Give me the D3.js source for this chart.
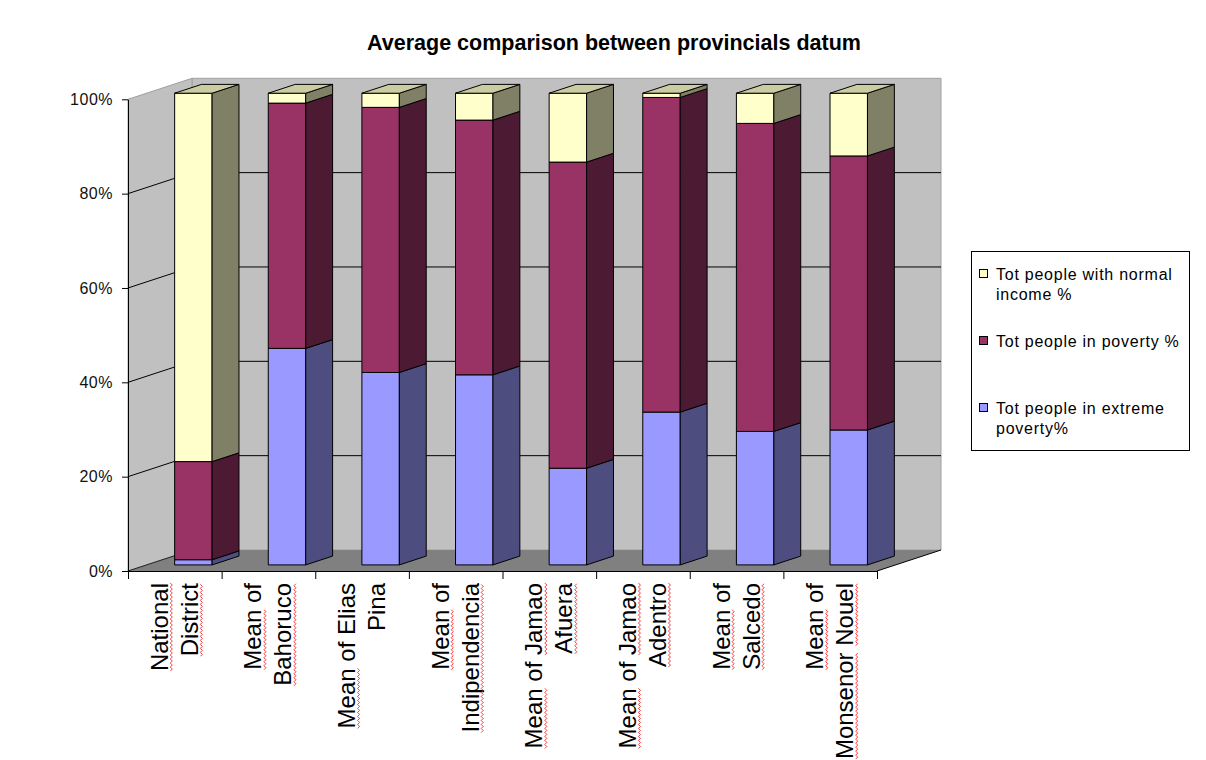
<!DOCTYPE html>
<html>
<head>
<meta charset="utf-8">
<script src="https://cdn.jsdelivr.net/npm/d3@7"></script>
<style>
  html, body { margin: 0; padding: 0; background: #ffffff; }
  svg { display: block; font-family: "Liberation Sans", Arial, sans-serif; }
</style>
</head>
<body>
<svg id="chart" width="1206" height="760"></svg>
<script>
// Categories and the wrapped lines of their axis labels
const categories = [
  "National District", "Mean of Bahoruco", "Mean of Elias Pina", "Mean of Indipendencia",
  "Mean of Jamao Afuera", "Mean of Jamao Adentro", "Mean of Salcedo", "Mean of Monsenor Nouel"
];
const categoryLabelLines = [
  ["National", "District"], ["Mean of", "Bahoruco"], ["Mean of Elias", "Pina"], ["Mean of", "Indipendencia"],
  ["Mean of Jamao", "Afuera"], ["Mean of Jamao", "Adentro"], ["Mean of", "Salcedo"], ["Mean of", "Monsenor Nouel"]
];
// Words carrying the red wavy spell-check underline
const flaggedWords = ["National", "District", "Mean", "Bahoruco", "Indipendencia", "Jamao",
  "Afuera", "Adentro", "Salcedo", "Monsenor", "Nouel"];

// Series values (% of people), stacked bottom to top
const extremePoverty = [1.1, 45.9, 40.8, 40.3, 20.5, 32.4, 28.3, 28.6];
const poverty        = [20.8, 52.0, 56.2, 54.0, 64.9, 66.7, 65.3, 58.1];
const normalIncome   = [78.1, 2.1, 3.0, 5.7, 14.6, 0.9, 6.4, 13.3];

const seriesKeys = ["extreme", "poverty", "normal"];
const legendLines = {
  normal: ["Tot people with normal", "income %"],
  poverty: ["Tot people in poverty %"],
  extreme: ["Tot people in extreme", "poverty%"]
};
const yTicks = [0, 20, 40, 60, 80, 100];
const titleText = "Average comparison between provincials datum";

// Face colours: front, right side, top
const colors = {
  normal:  { front: "#FFFFCC", side: "#808066", top: "#CCCCA3" },
  poverty: { front: "#993366", side: "#4D1A33", top: "#7A2952" },
  extreme: { front: "#9999FF", side: "#4D4D80", top: "#7A7ACC" }
};

const rows = categories.map((c, i) => ({
  category: c, extreme: extremePoverty[i], poverty: poverty[i], normal: normalIncome[i]
}));
const stacked = d3.stack().keys(seriesKeys)(rows);

const svg = d3.select("#chart");

// Front plane scales and the depth vector of the 3D box
const xBand = d3.scaleBand().domain(categories).range([128, 877]).paddingInner(0.6).paddingOuter(0.3);
const xEdge = d3.scaleLinear().domain([0, categories.length]).range([128, 877]);
const y = d3.scaleLinear().domain([0, 100]).range([571, 99.3]);
const DX = 64, DY = -21;
const T0 = 0.29, T1 = 0.71; // bar front / back depth fractions

const P = (x, v, t) => [x + DX * t, y(v) + DY * t];
const poly = pts => pts.map(p => p.join(",")).join(" ");

// Title
svg.append("text")
  .attr("x", 614).attr("y", 50)
  .attr("text-anchor", "middle")
  .attr("font-size", 21.5).attr("font-weight", "bold")
  .attr("fill", "#000")
  .text(titleText);

// Walls and floor
const walls = svg.append("g");
const xl0 = xEdge(0), xr0 = xEdge(categories.length);
walls.append("polygon") // back wall
  .attr("points", poly([P(xl0, 100, 1), P(xr0, 100, 1), P(xr0, 0, 1), P(xl0, 0, 1)]))
  .attr("fill", "#C0C0C0").attr("stroke", "#A0A0A0").attr("stroke-width", 1);
walls.append("polygon") // side wall
  .attr("points", poly([P(xl0, 100, 0), P(xl0, 100, 1), P(xl0, 0, 1), P(xl0, 0, 0)]))
  .attr("fill", "#C0C0C0").attr("stroke", "#A0A0A0").attr("stroke-width", 1);
walls.append("polygon") // floor
  .attr("points", poly([P(xl0, 0, 0), P(xl0, 0, 1), P(xr0, 0, 1), P(xr0, 0, 0)]))
  .attr("fill", "#808080");
walls.append("line") // floor / side wall edge
  .attr("x1", P(xl0, 0, 0)[0]).attr("y1", P(xl0, 0, 0)[1])
  .attr("x2", P(xl0, 0, 1)[0]).attr("y2", P(xl0, 0, 1)[1])
  .attr("stroke", "#222").attr("stroke-width", 1);
walls.append("line") // floor right edge
  .attr("x1", P(xr0, 0, 0)[0]).attr("y1", P(xr0, 0, 0)[1])
  .attr("x2", P(xr0, 0, 1)[0]).attr("y2", P(xr0, 0, 1)[1])
  .attr("stroke", "#000").attr("stroke-width", 1);

// Gridlines on side wall and back wall
const grid = svg.append("g").attr("stroke", "#000").attr("stroke-width", 1).attr("fill", "none");
yTicks.filter(v => v > 0 && v < 100).forEach(v => {
  grid.append("polyline")
    .attr("points", poly([P(xl0, v, 0), P(xl0, v, 1), P(xr0, v, 1)]));
});

// Bars: front, right side and top faces per stacked segment
const bars = svg.append("g").attr("stroke", "#000").attr("stroke-width", 1).attr("stroke-linejoin", "round");
categories.forEach((c, i) => {
  const xl = xBand(c), xr = xl + xBand.bandwidth();
  stacked.forEach((layer, li) => {
    const key = layer.key;
    const [v0, v1] = layer[i];
    if (v1 - v0 <= 0) return;
    const col = colors[key];
    bars.append("polygon")
      .attr("points", poly([P(xl, v1, T0), P(xr, v1, T0), P(xr, v0, T0), P(xl, v0, T0)]))
      .attr("fill", col.front);
    bars.append("polygon")
      .attr("points", poly([P(xr, v1, T0), P(xr, v1, T1), P(xr, v0, T1), P(xr, v0, T0)]))
      .attr("fill", col.side);
    if (li === stacked.length - 1) {
      bars.append("polygon")
        .attr("points", poly([P(xl, v1, T0), P(xr, v1, T0), P(xr, v1, T1), P(xl, v1, T1)]))
        .attr("fill", col.top);
    }
  });
});

// Y axis on the front plane
const yAxis = svg.append("g")
  .attr("transform", `translate(${xl0},0)`)
  .call(d3.axisLeft(y).tickValues(yTicks).tickFormat(d => d + "%")
    .tickSize(6).tickSizeOuter(0).tickPadding(9));
yAxis.select(".domain").attr("stroke", "#000");
yAxis.selectAll(".tick line").attr("stroke", "#000");
yAxis.selectAll(".tick text")
  .attr("font-family", "'Liberation Sans', Arial, sans-serif")
  .attr("font-size", 16).attr("letter-spacing", 0.5).attr("fill", "#111");

// X axis: front floor edge with ticks between categories
const xAxis = svg.append("g")
  .attr("transform", `translate(0,${y(0)})`)
  .call(d3.axisBottom(xEdge).tickValues(d3.range(categories.length + 1)).tickFormat("")
    .tickSize(8).tickSizeOuter(0));
xAxis.select(".domain").attr("stroke", "#000");
xAxis.selectAll(".tick line").attr("stroke", "#000");

// Rotated two-line category labels with spell-check squiggles
const squiggle = (x0, x1, yb) => {
  const pts = [];
  let up = true;
  for (let x = x0; x <= x1; x += 2) { pts.push([x, yb + (up ? 0 : 2)]); up = !up; }
  return poly(pts);
};
const labelG = svg.append("g");
categories.forEach((c, i) => {
  const cx = xBand(c) + xBand.bandwidth() / 2;
  const g = labelG.append("g").attr("transform", `translate(${cx},583) rotate(-90)`);
  categoryLabelLines[i].forEach((line, li) => {
    const yb = li === 0 ? -7 : 23;
    const t = g.append("text")
      .attr("x", 0).attr("y", yb)
      .attr("text-anchor", "end")
      .attr("font-size", 24).attr("fill", "#000")
      .text(line);
    const node = t.node();
    let idx = 0;
    line.split(" ").forEach(word => {
      if (flaggedWords.includes(word)) {
        const s = node.getStartPositionOfChar(idx).x;
        const e = node.getEndPositionOfChar(idx + word.length - 1).x;
        g.append("polyline")
          .attr("points", squiggle(s, e, yb + 2.5))
          .attr("fill", "none").attr("stroke", "#FF2020").attr("stroke-width", 0.9);
      }
      idx += word.length + 1;
    });
  });
});

// Legend
const legend = svg.append("g");
legend.append("rect")
  .attr("x", 971.5).attr("y", 251.5).attr("width", 218).attr("height", 199)
  .attr("fill", "#fff").attr("stroke", "#000").attr("stroke-width", 1);
const legendItems = [
  { key: "normal", baseline: 280 },
  { key: "poverty", baseline: 347 },
  { key: "extreme", baseline: 414 }
];
legendItems.forEach(item => {
  legend.append("rect")
    .attr("x", 979.5).attr("y", item.baseline - 10.5).attr("width", 8).attr("height", 8)
    .attr("fill", colors[item.key].front).attr("stroke", "#000").attr("stroke-width", 1);
  legendLines[item.key].forEach((line, li) => {
    legend.append("text")
      .attr("x", 996).attr("y", item.baseline + li * 19.5)
      .attr("font-size", 16).attr("letter-spacing", 0.75).attr("fill", "#000")
      .text(line);
  });
});
</script>
</body>
</html>
